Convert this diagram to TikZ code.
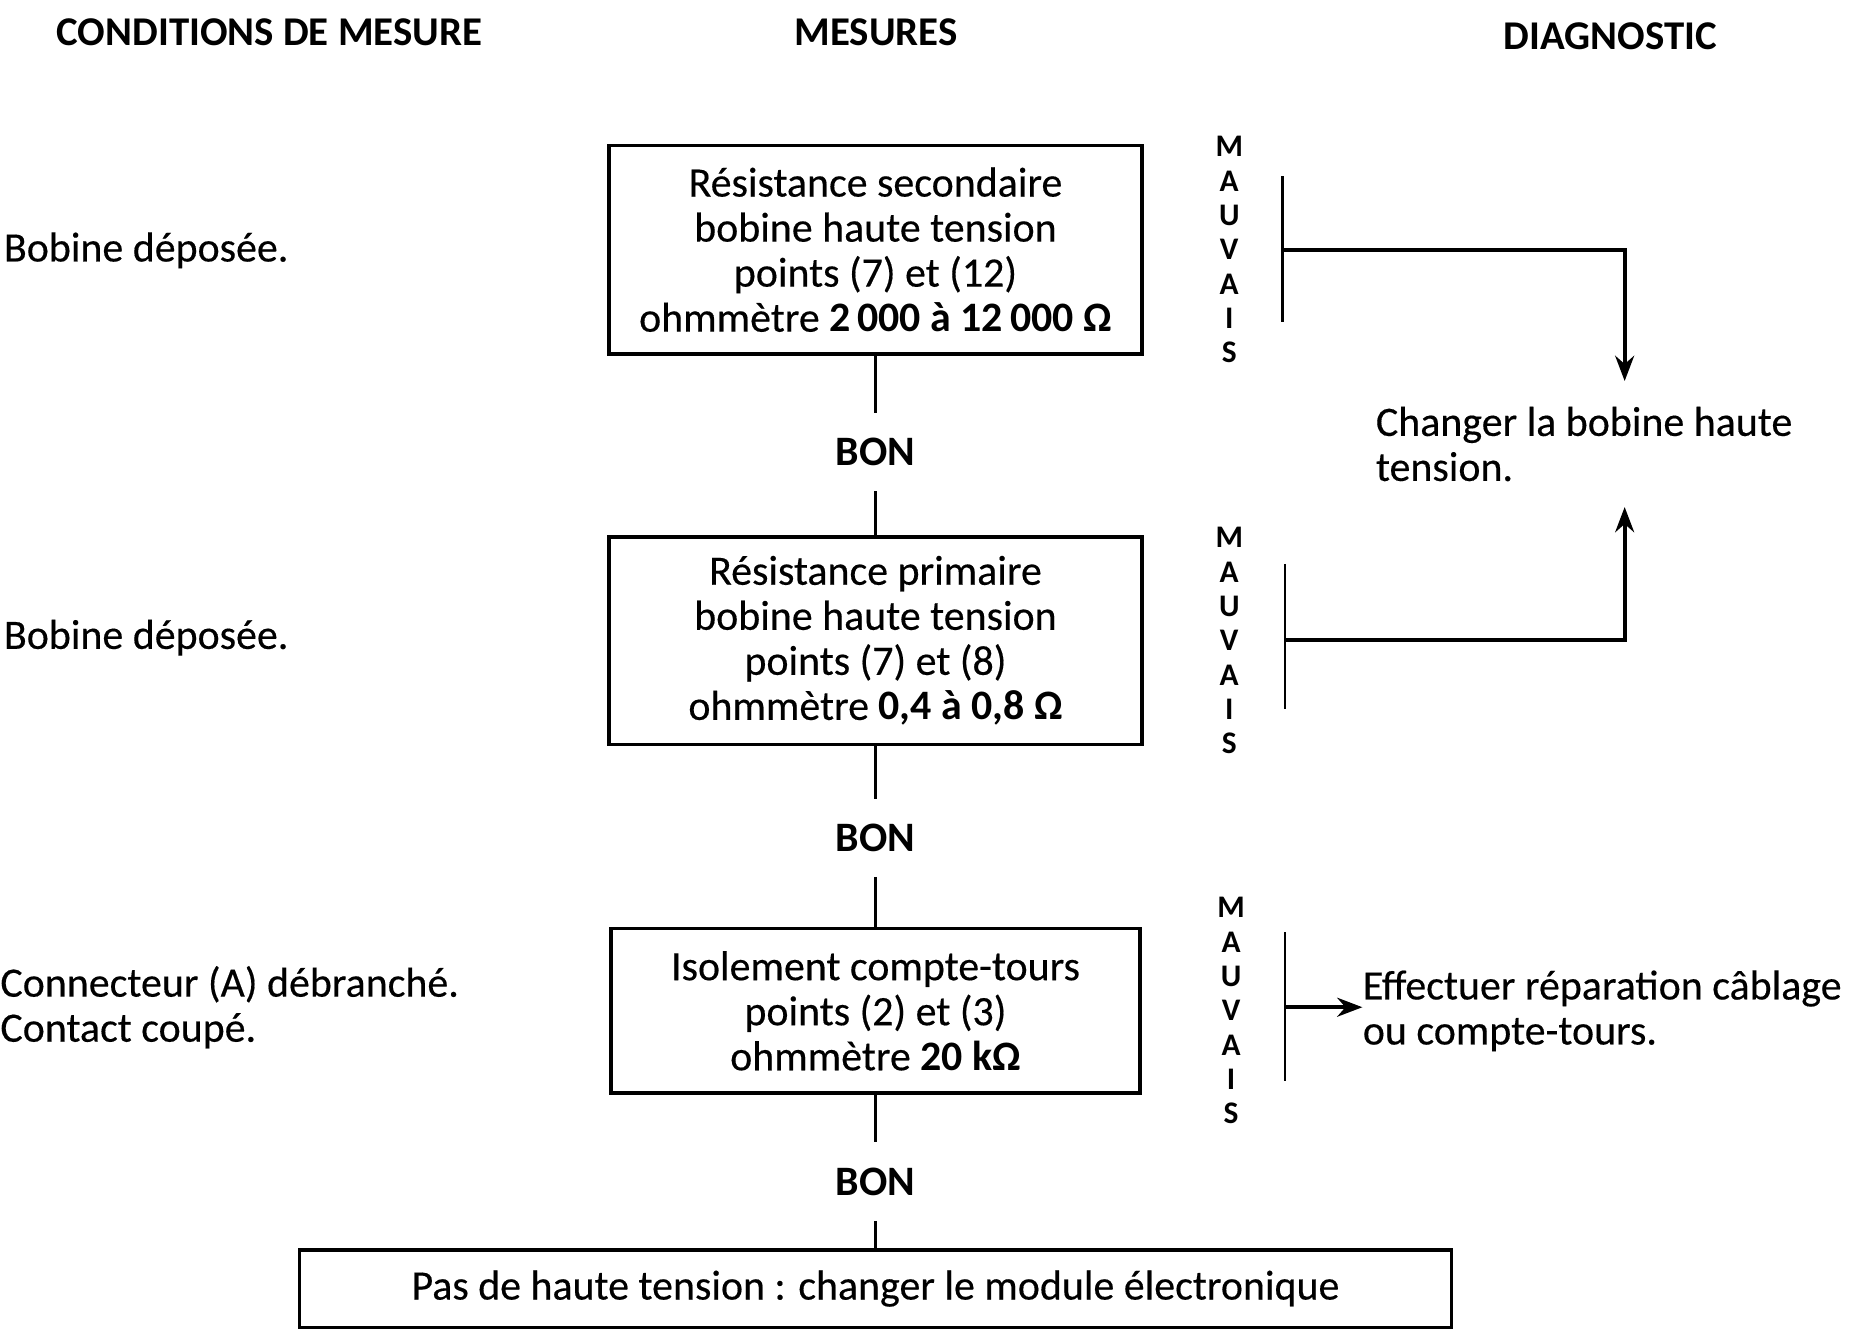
\documentclass[tikz,border=0pt]{standalone}
\usepackage{fontspec}
\setmainfont{Carlito}[UprightFeatures={FakeBold=0.35}]
\usetikzlibrary{arrows.meta,positioning,calc}

\begin{document}
\begin{tikzpicture}[
    x=0.2mm, y=-0.2mm,
    every node/.style={font=\fontsize{20}{21.5}\selectfont},
    heading/.style={font=\fontsize{19.5}{21.5}\selectfont\bfseries},
    testbox/.style={rectangle, draw=black, line width=1.6pt, align=center, minimum width=8.94cm, inner sep=0pt},
    condition/.style={anchor=west, align=left, inner sep=0pt},
    bon/.style={minimum height=1.3cm, inner sep=0pt, font=\fontsize{20}{21.5}\selectfont\bfseries},
    mauvais/.style={align=center, inner sep=0pt, font=\fontsize{15}{16.4}\selectfont\bfseries},
    diag/.style={anchor=west, align=left, inner sep=0pt},
    link/.style={line width=1.4pt},
    bar/.style={line width=1.1pt},
    arrow/.style={-{Stealth[length=12pt,width=9pt]}, line width=2pt}
]

\useasboundingbox (0,0) rectangle (1568,1115);

% Column headings
\node[heading] (hcond) at (226,27) {CONDITIONS DE MESURE};
\node[heading] (hmes) at (735,27) {MESURES};
\node[heading] (hdiag) at (1351,30) {DIAGNOSTIC};

% Measurement chain
\node[testbox, minimum height=3.5cm] (sec) at (734.5,209.5) {Résistance secondaire\\bobine haute tension\\points (7) et (12)\\ohmmètre \textbf{2\,000 à 12\,000 Ω}};
\node[bon, below=0.96cm of sec] (bon1) {BON};
\node[testbox, minimum height=3.48cm, below=0.74cm of bon1] (prim) {Résistance primaire\\bobine haute tension\\points (7) et (8)\\ohmmètre \textbf{0,4 à 0,8 Ω}};
\node[bon, below=0.88cm of prim] (bon2) {BON};
\node[testbox, minimum height=2.76cm, minimum width=8.88cm, below=0.84cm of bon2] (iso) {Isolement compte-tours\\points (2) et (3)\\ohmmètre \textbf{20 kΩ}};
\node[bon, below=0.8cm of iso] (bon3) {BON};
\node[testbox, minimum height=1.3cm, minimum width=19.32cm, below=0.46cm of bon3] (module) {Pas de haute tension : changer le module électronique};

\draw[link] (sec) -- (bon1);
\draw[link] (bon1) -- (prim);
\draw[link] (prim) -- (bon2);
\draw[link] (bon2) -- (iso);
\draw[link] (iso) -- (bon3);
\draw[link] (bon3) -- (module);

% Measurement conditions
\node[condition] (cond1) at (3,210) {Bobine déposée.};
\node[condition] (cond2) at (3,535) {Bobine déposée.};
\node[condition] (cond3) at (0,845) {Connecteur (A) débranché.\\Contact coupé.};

% MAUVAIS branches
\node[mauvais, right=1.2cm of sec] (mv1) {M\\A\\U\\V\\A\\I\\S};
\node[mauvais, right=1.2cm of prim] (mv2) {M\\A\\U\\V\\A\\I\\S};
\node[mauvais, right=1.26cm of iso] (mv3) {M\\A\\U\\V\\A\\I\\S};

\coordinate (t1) at (1076,210);
\coordinate (t2) at (1078,537);
\coordinate (t3) at (1078,845);
\draw[bar] (1076,148) -- (1076,270);
\draw[bar] (1078,473) -- (1078,595);
\draw[bar] (1078,782) -- (1078,907);

% Diagnostics
\node[diag, minimum height=2.1cm] (diag1) at (1154,372.5) {Changer la bobine haute\\tension.};
\node[diag] (diag2) at (1143,848) {Effectuer réparation câblage\\ou compte-tours.};

\draw[arrow] (t1) -| ($(diag1.north west)+(209,0)$);
\draw[arrow] (t2) -| ($(diag1.south west)+(209,0)$);
\draw[arrow] (t3) -- (t3 -| diag2.west);

\end{tikzpicture}
\end{document}
